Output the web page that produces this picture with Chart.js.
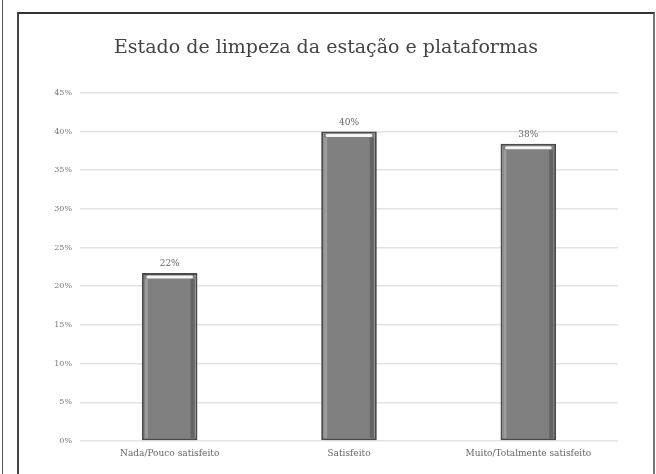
<!DOCTYPE html>
<html>
<head>
<meta charset="utf-8">
<script src="https://cdn.jsdelivr.net/npm/chart.js@4/dist/chart.umd.min.js"></script>
<style>
  html, body { margin: 0; padding: 0; background: #fff; }
  body { width: 656px; height: 474px; position: relative; overflow: hidden; }
  #edge { position: absolute; left: 2px; top: 0; width: 1px; height: 474px; background: #555; }
  #frame { position: absolute; left: 17px; top: 12px; width: 634px; height: 480px;
           border-top: 2px solid #333; border-left: 2px solid #444; border-right: 2px solid #777; }
  canvas { position: absolute; left: 0; top: 0; }
</style>
</head>
<body>
<div id="edge"></div>
<div id="frame"></div>
<canvas id="chart" width="656" height="474"></canvas>
<script>
const chartTitle = 'Estado de limpeza da estação e plataformas';
const categories = ['Nada/Pouco satisfeito', 'Satisfeito', 'Muito/Totalmente satisfeito'];
const values = [21.7, 40.0, 38.4];
const valueLabels = ['22%', '40%', '38%'];

// labels above bars + bevel look on the bars
const barExtras = {
    id: 'barExtras',
    afterDatasetsDraw(chart) {
        const ctx = chart.ctx;
        const meta = chart.getDatasetMeta(0);
        meta.data.forEach((bar, i) => {
            const left = bar.x - bar.width / 2;
            const right = bar.x + bar.width / 2;
            const top = bar.y;
            const bottom = bar.base;
            ctx.save();
            // light strip inside left edge
            ctx.fillStyle = 'rgba(255,255,255,0.22)';
            ctx.fillRect(left + 3, top + 6, 3, bottom - top - 8);
            // darker strip inside right edge
            ctx.fillStyle = 'rgba(0,0,0,0.22)';
            ctx.fillRect(right - 7, top + 6, 4, bottom - top - 8);
            // top highlight
            ctx.strokeStyle = '#f4f4f4';
            ctx.lineWidth = 3;
            ctx.lineCap = 'round';
            ctx.beginPath();
            ctx.moveTo(left + 6, top + 4);
            ctx.lineTo(right - 6, top + 4);
            ctx.stroke();
            // value label
            ctx.fillStyle = '#666';
            ctx.font = '9px "DejaVu Serif"';
            ctx.textAlign = 'center';
            ctx.textBaseline = 'middle';
            ctx.fillText(valueLabels[i], bar.x, top - 9);
            ctx.restore();
        });
    }
};

new Chart(document.getElementById('chart'), {
    type: 'bar',
    data: {
        labels: categories,
        datasets: [{
            data: values,
            backgroundColor: '#808080',
            borderColor: '#4a4a4a',
            borderWidth: 2,
            borderSkipped: false,
            barPercentage: 0.31,
            categoryPercentage: 1
        }]
    },
    options: {
        responsive: false,
        animation: false,
        layout: { padding: { left: 34, right: 38, top: 0, bottom: 0 } },
        plugins: {
            legend: { display: false },
            tooltip: { enabled: false },
            title: {
                display: true,
                text: chartTitle,
                color: '#444',
                font: { family: '"DejaVu Serif"', size: 19, weight: 'normal' },
                padding: { top: 37, bottom: 33 }
            }
        },
        scales: {
            x: {
                grid: { display: false, drawTicks: false },
                border: { display: false },
                ticks: { color: '#666', font: { family: '"DejaVu Serif"', size: 9 }, padding: 7, maxRotation: 0 },
                afterFit(scale) { scale.height = 33; }
            },
            y: {
                min: 0,
                max: 45,
                grid: { color: '#e3e3e3', lineWidth: 1.5, drawTicks: false },
                border: { display: false },
                ticks: {
                    stepSize: 5,
                    color: '#777',
                    padding: 8,
                    font: { family: '"DejaVu Serif"', size: 8 },
                    callback: v => v + '%'
                },
                afterFit(scale) { scale.width = 46; }
            }
        }
    },
    plugins: [barExtras]
});
</script>
</body>
</html>
